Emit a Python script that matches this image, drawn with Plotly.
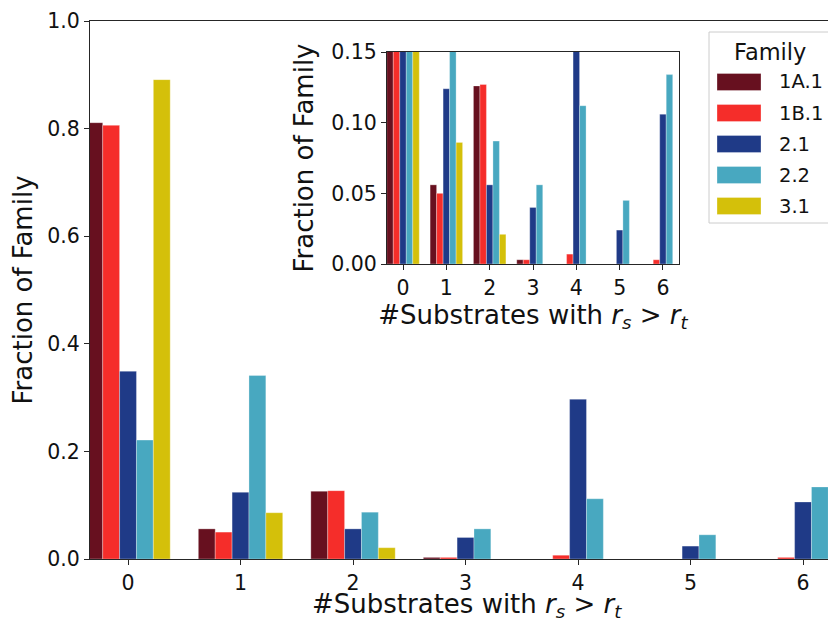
import plotly.graph_objects as go

# ---- data ----
categories = [0, 1, 2, 3, 4, 5, 6]
families = ["1A.1", "1B.1", "2.1", "2.2", "3.1"]
colors = ["#67101f", "#f52d2a", "#1f3a87", "#48a8c0", "#d4c00a"]
v_1A1 = [0.811, 0.056, 0.126, 0.003, 0.0, 0.0, 0.0]
v_1B1 = [0.806, 0.050, 0.127, 0.003, 0.007, 0.0, 0.003]
v_21 = [0.349, 0.124, 0.056, 0.040, 0.297, 0.024, 0.106]
v_22 = [0.221, 0.341, 0.087, 0.056, 0.112, 0.045, 0.134]
v_31 = [0.891, 0.086, 0.021, 0.0, 0.0, 0.0, 0.0]
series = [v_1A1, v_1B1, v_21, v_22, v_31]
main_yticks = [0.0, 0.2, 0.4, 0.6, 0.8, 1.0]
inset_yticks = [0.0, 0.05, 0.10, 0.15]

# ---- layout geometry (window pixels; page body has an 8px margin) ----
OFF = 8
W, H = 836 - OFF, 622 - OFF
PL, PR, PT, PB = 90, 836, 21, 559          # plot area in window pixels
L, R, T, B = PL - OFF, 0, PT - OFF, H - (PB - OFF)
PW, PH = PR - PL, PB - PT


def px(x):
    return (x - PL) / PW


def py(y):
    return (PB - y) / PH


FONT = "DejaVu Sans"
AX = "#262626"
TICK = 20.5
TITLE = 26
xtitle = "#Substrates with <i>r</i><sub><i>s</i></sub> &gt; <i>r</i><sub><i>t</i></sub>"
edge = dict(width=0.5, color="rgba(255,255,255,0.6)")

fig = go.Figure()
for name, col, vals in zip(families, colors, series):
    fig.add_trace(go.Bar(x=categories, y=vals, name=name, marker_color=col,
                         marker_line=edge, xaxis="x", yaxis="y",
                         showlegend=False, offsetgroup=name))
    fig.add_trace(go.Bar(x=categories, y=vals, name=name, marker_color=col,
                         marker_line=edge, xaxis="x2", yaxis="y2",
                         showlegend=False, offsetgroup=name))

axis_common = dict(showline=True, linecolor=AX, linewidth=1.2, ticks="outside",
                   ticklen=5, tickwidth=1.2, tickcolor=AX, showgrid=False,
                   zeroline=False, automargin=False,
                   tickfont=dict(family=FONT, size=TICK, color="#111"))
tfont = dict(family=FONT, size=TITLE, color="#111")

fig.update_layout(
    width=W, height=H,
    margin=dict(l=L, r=R, t=T, b=B, pad=0),
    paper_bgcolor="white", plot_bgcolor="white",
    barmode="group", bargap=0.25, bargroupgap=0,
    font=dict(family=FONT, color="#111"),
    xaxis=dict(**axis_common, domain=[0, 1], range=[-0.338, 6.293], mirror=True,
               tickvals=categories, ticktext=[str(c) for c in categories]),
    yaxis=dict(**axis_common, domain=[0, 1], range=[0, 1.0], tickvals=main_yticks,
               tickformat=".1f",
               title=dict(text="Fraction of Family", font=tfont, standoff=8)),
    xaxis2=dict(**axis_common, domain=[px(387), px(679)], anchor="y2", mirror=True,
                range=[-0.37, 6.37], tickvals=categories,
                ticktext=[str(c) for c in categories],
                title=dict(text=xtitle, font=tfont, standoff=3)),
    yaxis2=dict(**axis_common, domain=[py(264), py(52)], anchor="x2", mirror=True,
                range=[0, 0.15], tickvals=inset_yticks, tickformat=".2f",
                title=dict(text="Fraction of Family", font=tfont, standoff=10)),
)

# ---- main x-axis title as an annotation (sits close to the bottom edge) ----
annotations = [dict(text=xtitle, xref="paper", yref="paper", x=px(467),
                    y=py(606), showarrow=False, xanchor="center", yanchor="middle",
                    font=tfont)]

# ---- legend drawn as shapes + text ----
shapes = [dict(type="rect", xref="paper", yref="paper",
               x0=px(709), x1=px(832), y0=py(223), y1=py(32),
               fillcolor="white", line=dict(color="#cccccc", width=1), layer="above")]
annotations.append(dict(text="Family", xref="paper", yref="paper", x=px(770), y=py(52),
                        showarrow=False, xanchor="center", yanchor="middle",
                        font=dict(family=FONT, size=22.5, color="#111")))
centers = [82, 113, 144, 175, 206]
for name, col, cy in zip(families, colors, centers):
    shapes.append(dict(type="rect", xref="paper", yref="paper",
                       x0=px(717), x1=px(761), y0=py(cy + 8.5), y1=py(cy - 8.5),
                       fillcolor=col, line=edge, layer="above"))
    annotations.append(dict(text=name, xref="paper", yref="paper", x=px(777), y=py(cy),
                            showarrow=False, xanchor="left", yanchor="middle",
                            font=dict(family=FONT, size=19.5, color="#111")))
fig.update_layout(shapes=shapes, annotations=annotations)

fig.write_html("out.html")
